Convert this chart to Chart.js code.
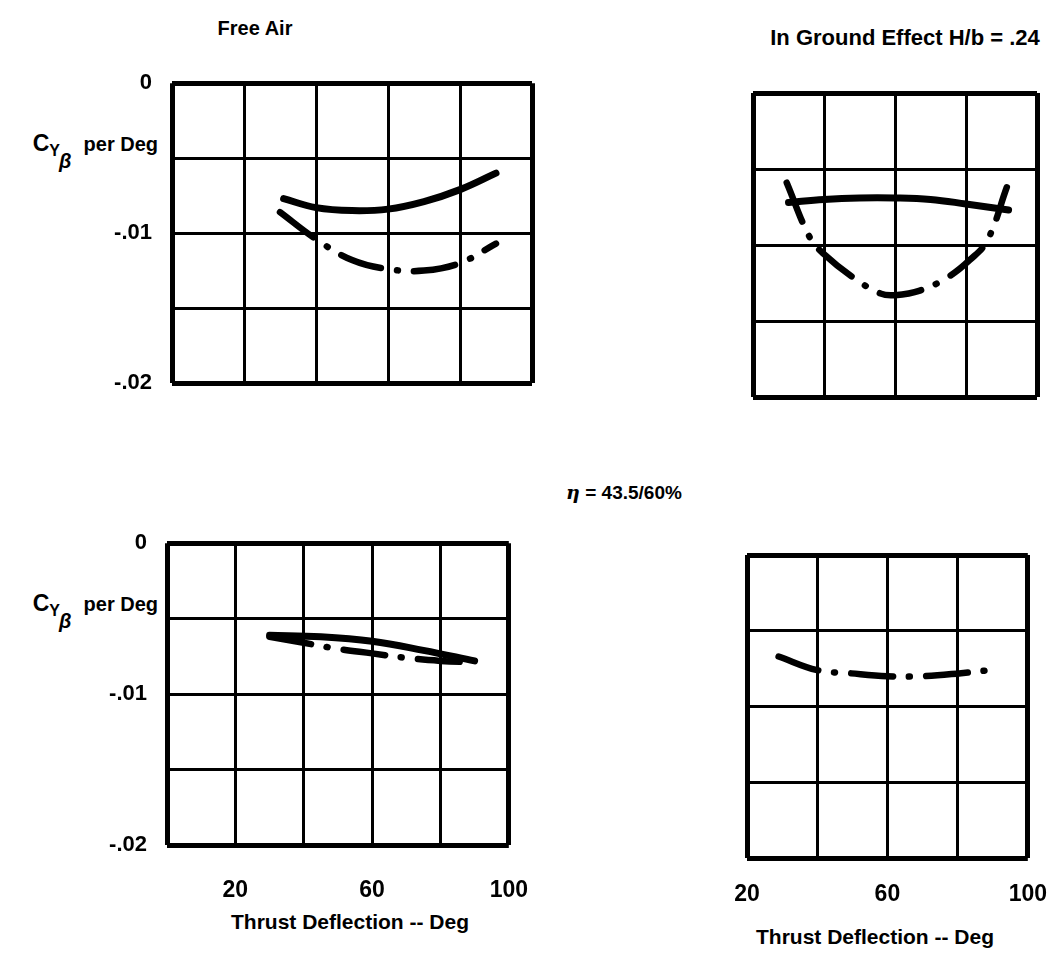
<!DOCTYPE html>
<html>
<head>
<meta charset="utf-8">
<script src="https://cdn.jsdelivr.net/npm/chart.js@4.4.0/dist/chart.umd.min.js"></script>
<style>
  body { margin: 0; width: 1047px; height: 954px; background: #fff; position: relative; overflow: hidden;
         font-family: "Liberation Sans", Arial, sans-serif; font-weight: bold; color: #000; }
  canvas { position: absolute; }
  .lbl { position: absolute; white-space: nowrap; transform: translate(-50%, -50%); }
  .cy { position: absolute; white-space: nowrap; font-size: 20px; transform: translateX(-100%); }
  .cy .c { font-size: 23px; }
  .cy .y { font-size: 16px; position: relative; top: 5px; }
  .cy .b { font-size: 20px; position: relative; top: 17px; left: -1px; font-style: italic; }
</style>
</head>
<body>

<div class="lbl" style="left:255px; top:28px; font-size:20px;">Free Air</div>
<div class="lbl" style="left:905px; top:38px; font-size:22px;">In Ground Effect H/b = .24</div>
<div class="lbl" style="left:624px; top:492px; font-size:19px;"><i style="font-family:'DejaVu Serif',serif;">η</i> = 43.5/60%</div>

<div class="cy" style="left:158px; top:130px;"><span class="c">C</span><span class="y">Y</span><span class="b">β</span>&nbsp; per Deg</div>
<div class="cy" style="left:158px; top:590px;"><span class="c">C</span><span class="y">Y</span><span class="b">β</span>&nbsp; per Deg</div>

<div class="lbl" style="left:350px; top:922px; font-size:21px;">Thrust Deflection -- Deg</div>
<div class="lbl" style="left:875px; top:937px; font-size:21px;">Thrust Deflection -- Deg</div>

<canvas id="tl"></canvas>
<canvas id="tr"></canvas>
<canvas id="bl"></canvas>
<canvas id="br"></canvas>

<script>
// y axis: side-force derivative per degree
const yTickValues = [-0.02, -0.015, -0.01, -0.005, 0];
const yTickLabels = ['-.02', '', '-.01', '', '0'];

// x axis: thrust deflection, deg
const xTicksLeft = [0, 20, 40, 60, 80, 100];
const xLabelsLeft = ['', '20', '', '60', '', '100'];
const xTicksRight = [20, 40, 60, 80, 100];
const xLabelsRight = ['20', '', '60', '', '100'];

// Free air, eta = 43.5%
const faSolidX = [31, 40, 50, 60, 70, 80, 90];
const faSolidY = [-0.0077, -0.0083, -0.0085, -0.0084, -0.0079, -0.0071, -0.0060];
const faDashX = [30, 40, 50, 60, 70, 80, 90];
const faDashY = [-0.0086, -0.0104, -0.0118, -0.0124, -0.0125, -0.0120, -0.0107];

// In ground effect, eta = 43.5%
const geSolidX = [30, 40, 50, 60, 70, 80, 92];
const geSolidY = [-0.0072, -0.0070, -0.0069, -0.0069, -0.0070, -0.0073, -0.0077];
const geDashX = [29.5, 36, 40, 48, 56, 60, 67, 75, 81, 86, 91.5];
const geDashY = [-0.0059, -0.0095, -0.0106, -0.0121, -0.0132, -0.0133, -0.0130, -0.0121, -0.0110, -0.0097, -0.0062];

// Free air, eta = 60%
const fa60SolidX = [30, 45, 60, 75, 90];
const fa60SolidY = [-0.0061, -0.0062, -0.0065, -0.0071, -0.0078];
const fa60DashX = [30, 40, 50, 60, 70, 80, 90];
const fa60DashY = [-0.0062, -0.0066, -0.0070, -0.0073, -0.0076, -0.0078, -0.0079];

// In ground effect, eta = 60%
const ge60DashX = [29, 40, 49, 60, 70, 81, 89];
const ge60DashY = [-0.0067, -0.0076, -0.0078, -0.0080, -0.0080, -0.0078, -0.0076];

const yFont = { family: '"Liberation Sans", Arial, sans-serif', weight: 'bold', size: 22 };
const xFont = { family: '"Liberation Sans", Arial, sans-serif', weight: 'bold', size: 23 };
const dashDot = [42, 16, 1, 16];

function pts(xs, ys) {
  return xs.map((x, i) => ({ x: x, y: ys[i] }));
}

function solid(xs, ys) {
  return { data: pts(xs, ys), borderColor: '#000', borderWidth: 7, pointRadius: 0,
           tension: 0.4, borderCapStyle: 'round', showLine: true };
}

function dashed(xs, ys) {
  return { data: pts(xs, ys), borderColor: '#000', borderWidth: 6.5, pointRadius: 0,
           tension: 0.4, borderCapStyle: 'round', borderDash: dashDot, showLine: true };
}

// cv: canvas rect on page, box: wanted plot area on page
function panel(id, cv, box, xTicks, xLabels, showX, showY, xPad, datasets) {
  const el = document.getElementById(id);
  el.width = cv.w; el.height = cv.h;
  el.style.left = cv.x + 'px'; el.style.top = cv.y + 'px';
  el.style.width = cv.w + 'px'; el.style.height = cv.h + 'px';
  const edge = c => (c.index === 0 || c.index === c.scale.ticks.length - 1) ? 5 : 3;
  return new Chart(el, {
    type: 'scatter',
    data: { datasets: datasets },
    options: {
      responsive: false,
      animation: false,
      layout: { autoPadding: false, padding: { left: 0, top: box.top - cv.y, right: cv.x + cv.w - box.right, bottom: 0 } },
      plugins: { legend: { display: false }, tooltip: { enabled: false } },
      scales: {
        x: {
          type: 'linear', min: xTicks[0], max: xTicks[xTicks.length - 1],
          afterBuildTicks: s => { s.ticks = xTicks.map(v => ({ value: v })); },
          afterFit: s => { s.height = cv.y + cv.h - box.bottom; },
          ticks: { display: showX, autoSkip: false, maxRotation: 0, padding: xPad, color: '#000', font: xFont,
                   callback: (v, i) => xLabels[i] },
          grid: { color: '#000', lineWidth: edge, drawTicks: false },
          border: { display: false }
        },
        y: {
          type: 'linear', min: -0.02, max: 0,
          afterBuildTicks: s => { s.ticks = yTickValues.map(v => ({ value: v })); },
          afterFit: s => { s.width = box.left - cv.x; },
          ticks: { display: showY, autoSkip: false, padding: 20, color: '#000', font: yFont,
                   callback: (v, i) => yTickLabels[i] },
          grid: { color: '#000', lineWidth: edge, drawTicks: false },
          border: { display: false }
        }
      }
    }
  });
}

panel('tl', { x: 0, y: 50, w: 560, h: 400 }, { left: 172, top: 80, right: 532, bottom: 383 },
      xTicksLeft, xLabelsLeft, false, true, 0,
      [solid(faSolidX, faSolidY), dashed(faDashX, faDashY)]);

panel('tr', { x: 700, y: 60, w: 370, h: 400 }, { left: 753, top: 93, right: 1037, bottom: 397 },
      xTicksRight, xLabelsRight, false, false, 0,
      [solid(geSolidX, geSolidY), dashed(geDashX, geDashY)]);

panel('bl', { x: 0, y: 510, w: 560, h: 400 }, { left: 167, top: 538, right: 528, bottom: 845 },
      xTicksLeft, xLabelsLeft, true, true, 32,
      [solid(fa60SolidX, fa60SolidY), dashed(fa60DashX, fa60DashY)]);

panel('br', { x: 700, y: 520, w: 370, h: 400 }, { left: 747, top: 555, right: 1035, bottom: 858 },
      xTicksRight, xLabelsRight, true, false, 23,
      [dashed(ge60DashX, ge60DashY)]);
</script>
</body>
</html>
